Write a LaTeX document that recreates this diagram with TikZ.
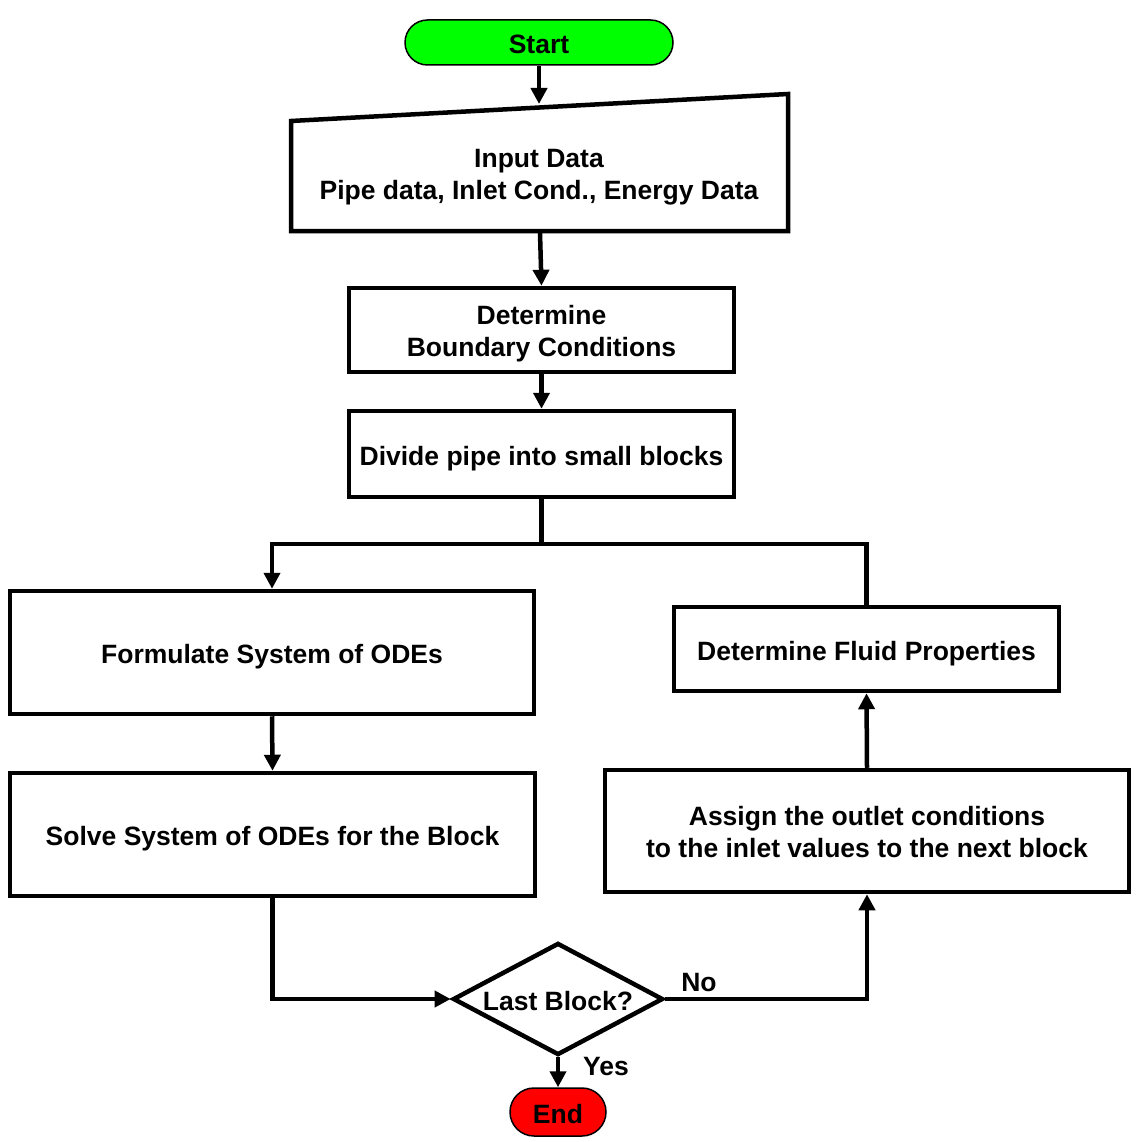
\documentclass[tikz,border=0pt]{standalone}
\usepackage{fontspec}
\setmainfont{Liberation Sans}
\usetikzlibrary{arrows.meta,shapes.geometric,shapes.misc}
\begin{document}
\begin{tikzpicture}[x=1pt,y=-1pt,
  txt/.style={font=\bfseries\fontsize{26.5}{32}\selectfont,align=center,inner sep=0pt},
  one/.style={text height=27pt,text depth=5pt},
  two/.style={text height=58pt,text depth=5pt},
  box/.style={txt,draw,line width=4.5pt,rectangle},
  term/.style={txt,one,draw,line width=1.5pt,rounded rectangle,rounded rectangle arc length=180},
  conn/.style={line width=4.5pt},
  arr/.style={conn,-{Triangle[length=16pt,width=16pt]}}]
\useasboundingbox (0,0) rectangle (1136,1142);
\definecolor{sgreen}{RGB}{0,255,0}
\definecolor{sred}{RGB}{255,0,0}

\node[term,fill=sgreen,minimum width=268pt,minimum height=45pt] (start) at (539,42.5) {Start};

\draw[line width=4.5pt,line join=miter] (291,121) -- (788,94) -- (788,231) -- (291,231) -- cycle;
\node[txt,two] (input) at (539,173) {Input Data\\Pipe data, Inlet Cond., Energy Data};
\coordinate (inTop) at (539,104);
\coordinate (inBot) at (540,233);

\node[box,two,minimum width=385pt,minimum height=84pt] (bc) at (541.5,330) {Determine\\Boundary Conditions};
\node[box,one,minimum width=385pt,minimum height=86pt] (div) at (541.5,454) {Divide pipe into small blocks};
\node[box,one,minimum width=524pt,minimum height=123pt] (form) at (272,652.5) {Formulate System of ODEs};
\node[box,one,minimum width=525pt,minimum height=123pt] (solve) at (272.5,834.5) {Solve System of ODEs for the Block};
\node[box,one,minimum width=385pt,minimum height=84pt] (fluid) at (866.5,649) {Determine Fluid Properties};
\node[box,two,minimum width=524pt,minimum height=122pt] (assign) at (867,831) {Assign the outlet conditions\\to the inlet values to the next block};

\node[txt,one,draw,line width=4.5pt,diamond,aspect=1.875,minimum width=210pt,minimum height=112pt] (dec) at (558,999) {Last Block?};

\node[term,fill=sred,minimum width=96pt,minimum height=48pt] (end) at (558,1112) {End};

\node[txt] (no) at (699,983) {No};
\node[txt] (yes) at (606,1066) {Yes};

\coordinate (split) at (541.5,544);

\draw[arr] (start.south) -- (inTop);
\draw[arr] (inBot) -- (bc.north);
\draw[arr] (bc.south) -- (div.north);
\draw[conn] (div.south) -- (split);
\draw[arr] (split) -| (form.north);
\draw[conn] (split) -| (fluid.north);
\draw[arr] (form.south) -- (solve.north);
\draw[arr] (solve.south) |- (dec.west);
\draw[arr] (dec.east) -| (assign.south);
\draw[arr] (assign.north) -- (fluid.south);
\draw[arr] (dec.south) -- (end.north);
\end{tikzpicture}
\end{document}
